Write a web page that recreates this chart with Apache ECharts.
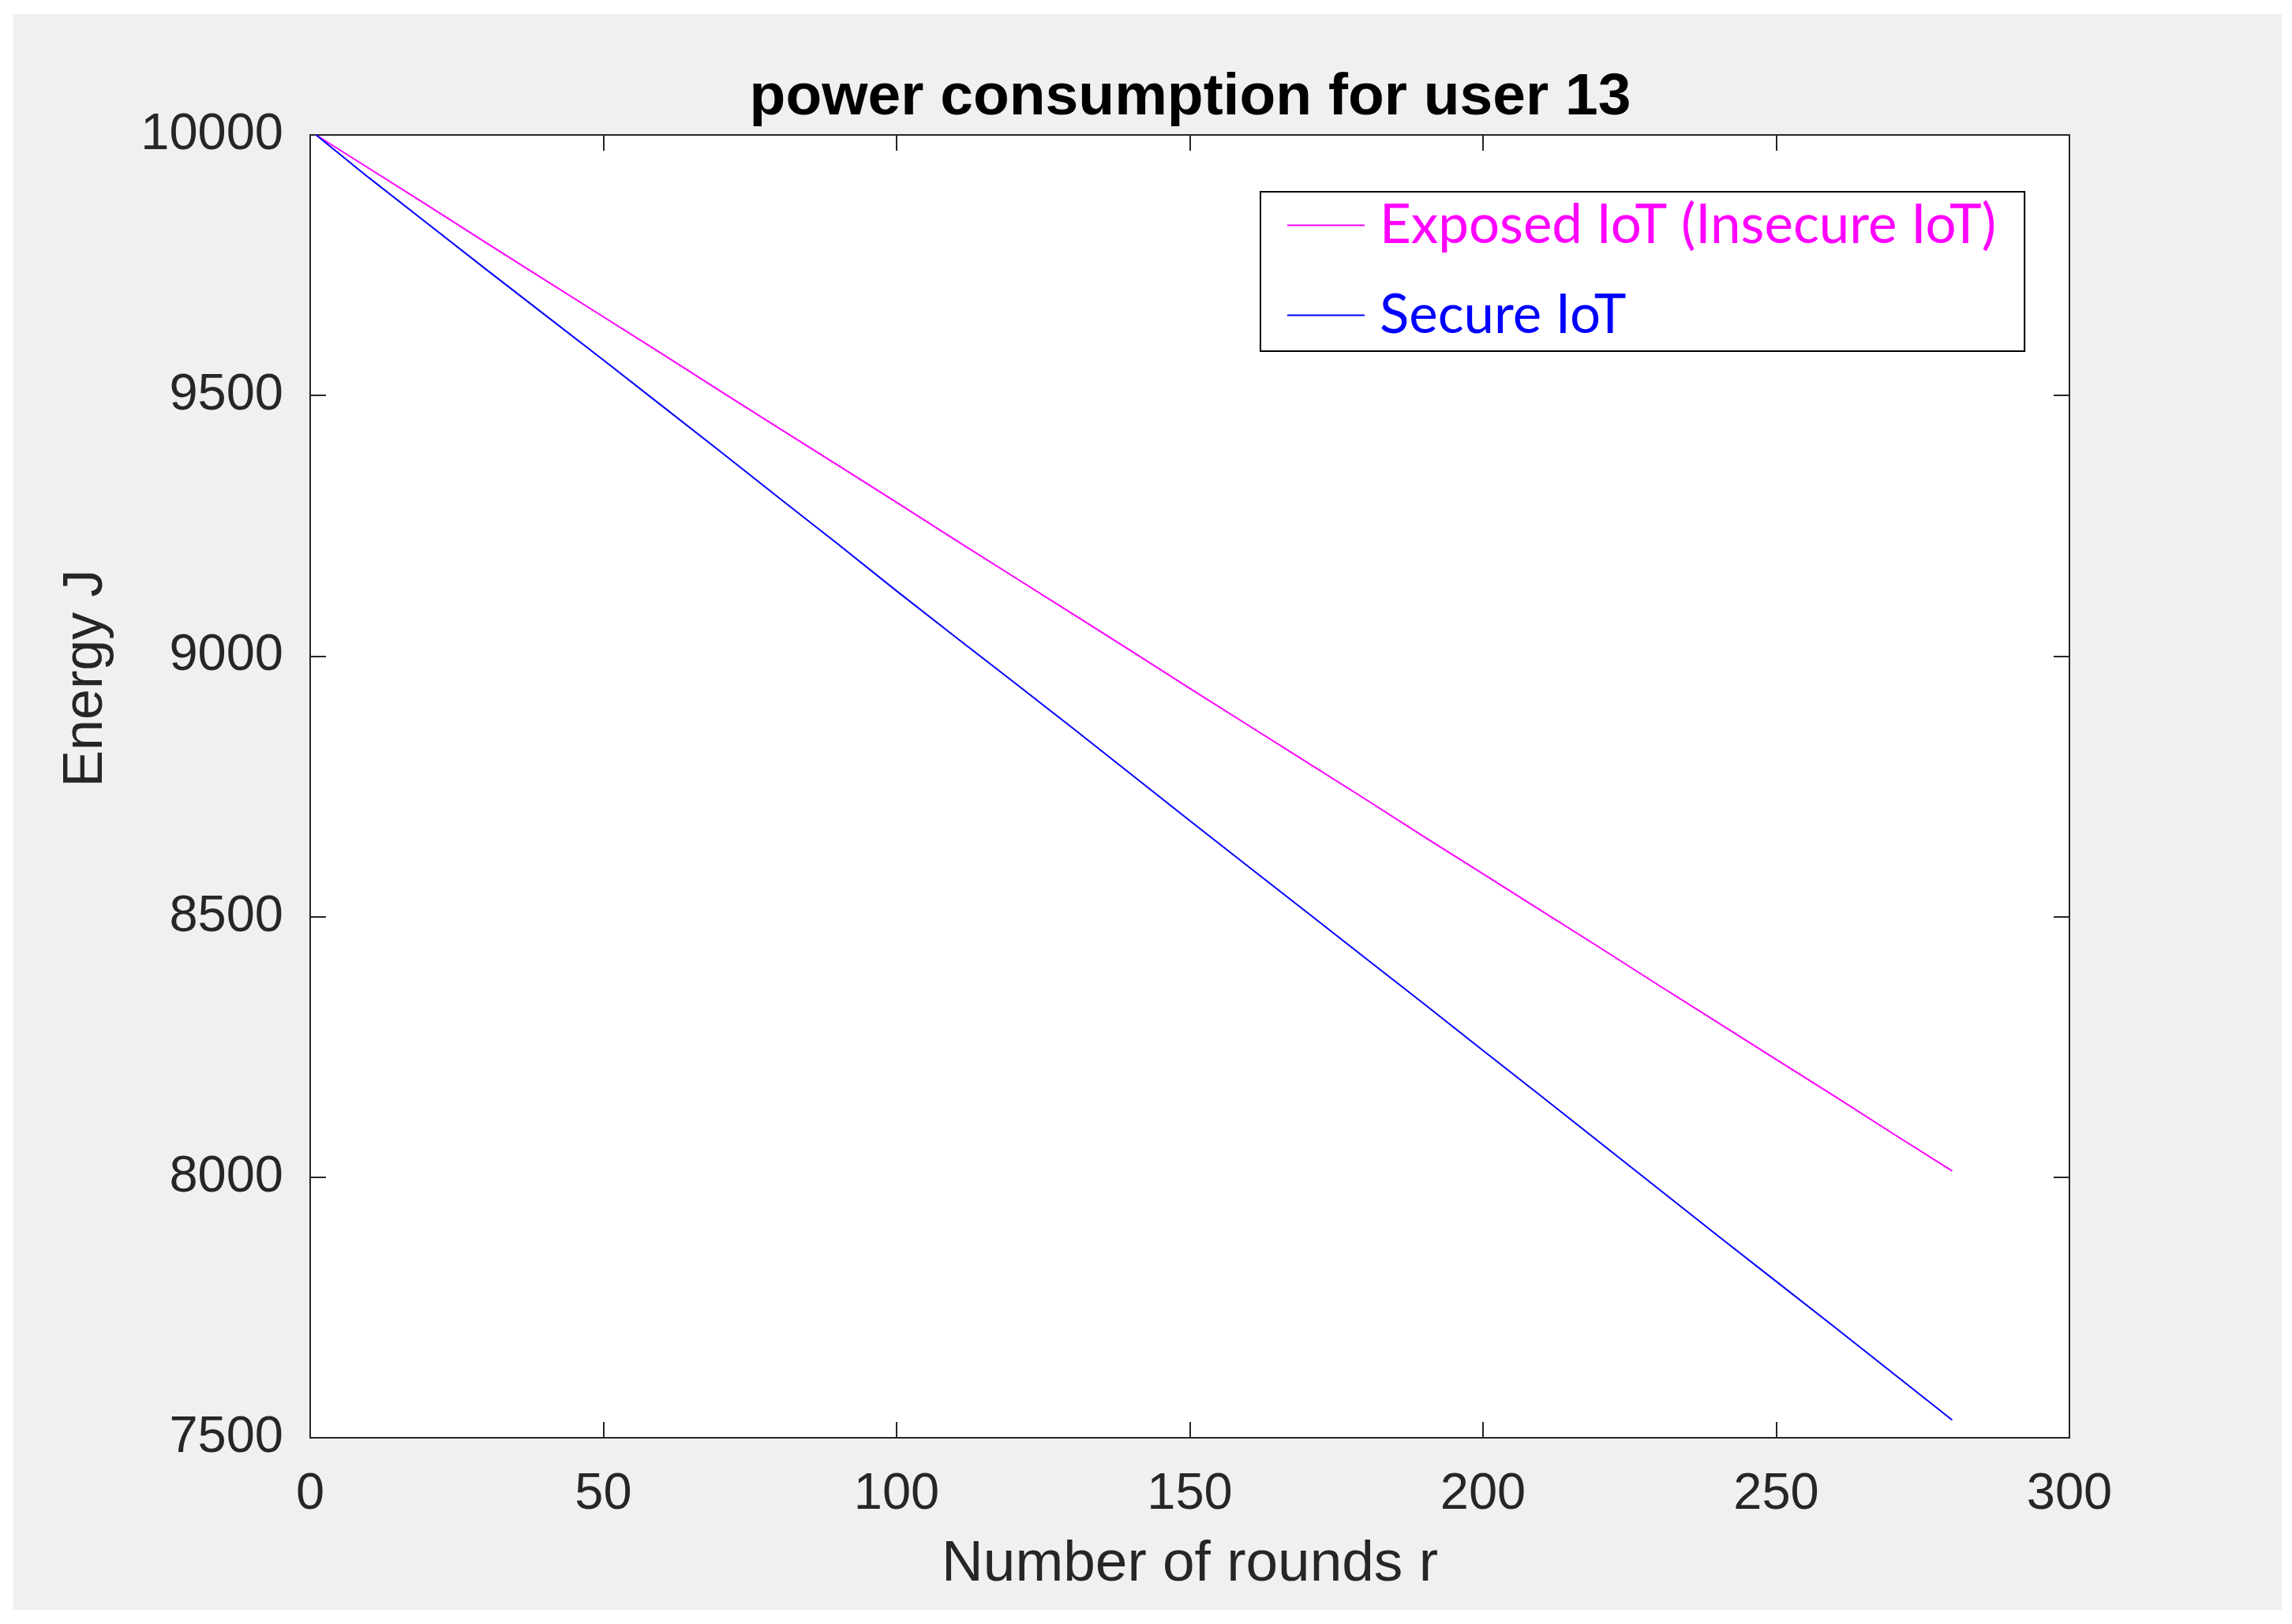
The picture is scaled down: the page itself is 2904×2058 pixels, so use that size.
<!DOCTYPE html>
<html>
<head>
<meta charset="utf-8">
<script src="https://cdn.jsdelivr.net/npm/echarts@6/dist/echarts.min.js"></script>
<style>
  html, body { margin: 0; padding: 0; background: #ffffff; width: 2904px; height: 2058px; overflow: hidden; }
  #chart { position: absolute; left: 17px; top: 18px; width: 2874px; height: 2022px; }
</style>
</head>
<body>
<div id="chart"></div>
<script>
// ---- data ----
const titleText = 'power consumption for user 13';
const xAxisName = 'Number of rounds r';
const yAxisName = 'Energy J';
const seriesNames = ['Exposed IoT (Insecure IoT)', 'Secure IoT'];

const rounds = [1, 10, 20, 30, 40, 50, 60, 70, 80, 90, 100, 110, 120, 130, 140,
                150, 160, 170, 180, 190, 200, 210, 220, 230, 240, 250, 260, 270, 280];

const exposedIoT = [10000, 9936, 9865, 9793, 9722, 9651, 9580, 9508, 9437, 9366,
                    9295, 9223, 9152, 9081, 9010, 8938, 8867, 8796, 8725, 8653,
                    8582, 8511, 8440, 8368, 8297, 8226, 8155, 8083, 8012];

const secureIoT = [10000, 9918, 9830, 9742, 9655, 9568, 9480, 9392, 9303, 9215,
                   9125, 9037, 8950, 8862, 8773, 8684, 8596, 8508, 8420, 8332,
                   8243, 8155, 8066, 7977, 7888, 7800, 7712, 7623, 7534];

const xRange = [0, 300];
const xStep = 50;
const yRange = [7500, 10000];
const yStep = 500;

// ---- chart ----
const chart = echarts.init(document.getElementById('chart'));
const axisColor = '#262626';
const tickFont = { fontFamily: 'Liberation Sans', fontSize: 65, color: axisColor };

const pairs = (ys) => rounds.map((r, i) => [r, ys[i]]);

const xBase = {
  type: 'value', min: xRange[0], max: xRange[1], interval: xStep,
  splitLine: { show: false },
  axisLine: { show: true, onZero: false, lineStyle: { color: axisColor, width: 2 } },
  axisTick: { show: true, inside: true, length: 20, lineStyle: { color: axisColor, width: 2 } }
};
const yBase = {
  type: 'value', min: yRange[0], max: yRange[1], interval: yStep,
  splitLine: { show: false },
  axisLine: { show: true, onZero: false, lineStyle: { color: axisColor, width: 2 } },
  axisTick: { show: true, inside: true, length: 20, lineStyle: { color: axisColor, width: 2 } }
};

chart.setOption({
  backgroundColor: '#f0f0f0',
  animation: false,
  title: {
    text: titleText,
    left: 1486,
    textAlign: 'center',
    top: 64,
    textStyle: { fontFamily: 'Liberation Sans', fontWeight: 'bold', fontSize: 75, color: '#000000' }
  },
  grid: {
    left: 376, right: 269, top: 153, bottom: 218,
    show: true, backgroundColor: '#ffffff', borderWidth: 0,
    containLabel: false, outerBoundsMode: 'none'
  },
  legend: {
    orient: 'vertical',
    left: 1580,
    top: 225,
    padding: [8, 36, 11, 33],
    itemWidth: 98,
    itemHeight: 14,
    itemGap: 45,
    itemTextGap: 20,
    itemStyle: { opacity: 0 },
    backgroundColor: '#ffffff',
    borderColor: '#000000',
    borderWidth: 2,
    borderRadius: 0,
    textStyle: { fontFamily: 'Lato', fontSize: 69, padding: [0, 0, 0, 14] },
    data: [
      { name: seriesNames[0], textStyle: { color: '#ff00ff' } },
      { name: seriesNames[1], textStyle: { color: '#0000ff' } }
    ]
  },
  xAxis: [
    Object.assign({}, xBase, {
      position: 'bottom',
      name: xAxisName,
      nameLocation: 'middle',
      nameGap: 124,
      nameTextStyle: { fontFamily: 'Liberation Sans', fontSize: 73, color: axisColor },
      axisLabel: Object.assign({ margin: 40 }, tickFont)
    }),
    Object.assign({}, xBase, { position: 'top', axisLabel: { show: false } })
  ],
  yAxis: [
    Object.assign({}, yBase, {
      position: 'left',
      name: yAxisName,
      nameLocation: 'middle',
      nameGap: 248,
      nameTextStyle: { fontFamily: 'Liberation Sans', fontSize: 70, color: axisColor, padding: [0, 0, 0, 274] },
      axisLabel: Object.assign({ margin: 34, formatter: (v) => String(v) }, tickFont)
    }),
    Object.assign({}, yBase, { position: 'right', axisLabel: { show: false } })
  ],
  series: [
    {
      name: seriesNames[0], type: 'line', xAxisIndex: 0, yAxisIndex: 0,
      data: pairs(exposedIoT), symbol: 'none', smooth: false,
      lineStyle: { color: '#ff00ff', width: 2 }, itemStyle: { color: '#ff00ff' }
    },
    {
      name: seriesNames[1], type: 'line', xAxisIndex: 0, yAxisIndex: 0,
      data: pairs(secureIoT), symbol: 'none', smooth: false,
      lineStyle: { color: '#0000ff', width: 2 }, itemStyle: { color: '#0000ff' }
    }
  ]
});
</script>
</body>
</html>
